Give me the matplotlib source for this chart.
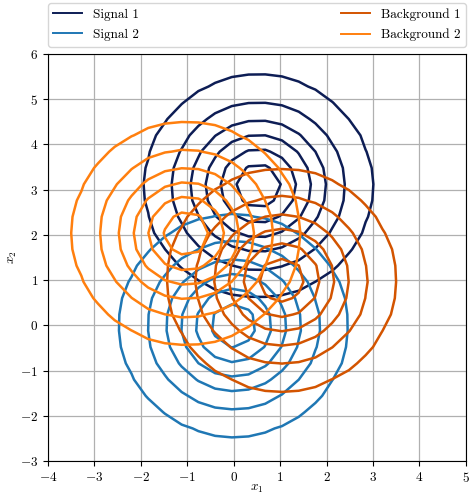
import numpy as np
import matplotlib
matplotlib.use("Agg")
import matplotlib.pyplot as plt
from matplotlib.lines import Line2D

plt.rcParams["font.family"] = "serif"
plt.rcParams["font.serif"] = ["cmr10"]
plt.rcParams["mathtext.fontset"] = "cm"
plt.rcParams["axes.formatter.use_mathtext"] = True
plt.rcParams["font.size"] = 9.5

# Class-conditional Gaussians (isotropic, unit variance)
names = ["Signal 1", "Signal 2", "Background 1", "Background 2"]
means_x1 = [0.53, 0.0, 1.03, -1.02]
means_x2 = [3.08, 0.0, 1.0, 2.03]
sigmas = [1.0, 1.0, 1.0, 1.0]
colors = ["#0d1d55", "#1f77b4", "#d35400", "#ff7f0e"]

# density levels drawn for every class
levels = [0.008, 0.029, 0.056, 0.084, 0.114, 0.141]

# coarse evaluation grid
gx = np.linspace(-4, 5, 26)
gy = np.linspace(-3, 6, 26)
X, Y = np.meshgrid(gx, gy)

fig = plt.figure(figsize=(4.74, 4.94), dpi=100)
ax = fig.add_axes([0.101, 0.0668, 0.882, 0.824])

handles = []
for name, mx, my, s, c in zip(names, means_x1, means_x2, sigmas, colors):
    Z = np.exp(-((X - mx) ** 2 + (Y - my) ** 2) / (2 * s ** 2)) / (2 * np.pi * s ** 2)
    ax.contour(X, Y, Z, levels=levels, colors=c, linewidths=1.8)
    handles.append(Line2D([], [], color=c, lw=1.4, label=name))

ax.set_xlim(-4, 5)
ax.set_ylim(-3, 6)
ax.set_xticks(np.arange(-4, 6, 1))
ax.set_yticks(np.arange(-3, 7, 1))
ax.grid(True, color="#b0b0b0", lw=0.9)
ax.set_axisbelow(True)
ax.set_xlabel("$x_1$")
ax.set_ylabel("$x_2$")
ax.xaxis.set_label_coords(0.5, -0.053)
ax.yaxis.set_label_coords(-0.07, 0.5)

ax.legend(handles=handles, bbox_to_anchor=(0, 1.018, 1, 0.1), loc="lower left",
          mode="expand", ncol=2, borderaxespad=0, labelspacing=0.6,
          handlelength=2.2)

fig.savefig("out.png", dpi=100)
